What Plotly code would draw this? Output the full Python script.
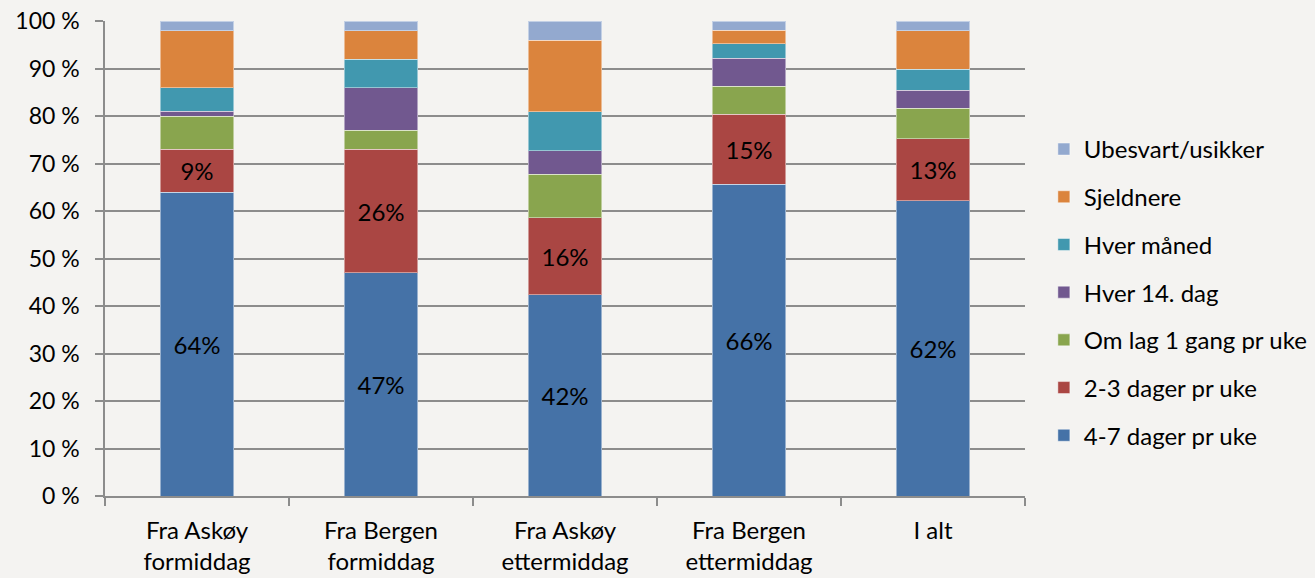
import plotly.graph_objects as go

categories = ["Fra Askøy<br>formiddag", "Fra Bergen<br>formiddag", "Fra Askøy<br>ettermiddag",
              "Fra Bergen<br>ettermiddag", "I alt"]

series_names = ["4-7 dager pr uke", "2-3 dager pr uke", "Om lag 1 gang pr uke",
                "Hver 14. dag", "Hver måned", "Sjeldnere", "Ubesvart/usikker"]

dager_4_7 = [64.0, 47.0, 42.4, 65.6, 62.2]
dager_2_3 = [9.0, 26.0, 16.2, 14.8, 13.0]
en_gang_uke = [7.0, 4.0, 9.1, 5.9, 6.4]
hver_14_dag = [1.0, 9.0, 5.0, 5.9, 3.8]
hver_maaned = [5.0, 6.0, 8.2, 3.0, 4.4]
sjeldnere = [12.0, 6.0, 15.1, 2.9, 8.2]
ubesvart = [2.0, 2.0, 4.0, 1.9, 2.0]

values = [dager_4_7, dager_2_3, en_gang_uke, hver_14_dag, hver_maaned, sjeldnere, ubesvart]
colors = ["#4572A7", "#AA4643", "#89A54E", "#71588F", "#4198AF", "#DB843D", "#93A9CF"]
labelled = [True, True, False, False, False, False, False]

FONT = "Lato"
BG = "#F4F3F1"

fig = go.Figure()
n = len(series_names)
for i, (name, vals, col, lab) in enumerate(zip(series_names, values, colors, labelled)):
    fig.add_trace(go.Bar(
        x=categories, y=vals, name=name, legendgroup=name, legendrank=n - i,
        marker=dict(color=col, line=dict(color="rgba(255,255,255,0.45)", width=1)),
        texttemplate="%{y:.0f}%" if lab else None,
        textposition="inside" if lab else "none",
        insidetextanchor="middle",
        textfont=dict(family=FONT, size=24, color="black"),
        hoverinfo="skip",
    ))

fig.update_layout(
    barmode="stack",
    bargap=0.6,
    width=1315, height=578,
    margin=dict(l=105, r=290, t=21, b=82, autoexpand=False),
    paper_bgcolor=BG,
    plot_bgcolor=BG,
    font=dict(family=FONT, size=23, color="black"),
    uniformtext=dict(minsize=8, mode=False),
    legend=dict(
        traceorder="grouped",
        x=1.0205, xanchor="left", y=0.4285, yanchor="middle",
        font=dict(family=FONT, size=24, color="black"),
        tracegroupgap=13.5,
        itemwidth=30,
        bgcolor="rgba(0,0,0,0)",
    ),
)
fig.update_yaxes(
    range=[0, 100], dtick=10, ticksuffix=" %",
    showgrid=True, gridcolor="#8C8C8C", gridwidth=1.5,
    showline=True, linecolor="#8C8C8C", linewidth=1.5,
    ticks="outside", ticklen=8, tickcolor="#8C8C8C", tickwidth=1.5,
    zeroline=False, automargin=False, ticklabelstandoff=11,
    tickfont=dict(family=FONT, size=23),
)
fig.update_xaxes(
    showline=True, linecolor="#8C8C8C", linewidth=1.5,
    ticks="outside", ticklen=8, tickcolor="#8C8C8C", tickwidth=1.5,
    tickson="boundaries", automargin=False, ticklabelstandoff=12,
    tickfont=dict(family=FONT, size=24),
)

fig.write_html(
    "out.html",
    config={"displayModeBar": False},
    post_script="document.body.style.margin='0';document.body.style.background='%s';" % BG,
)
